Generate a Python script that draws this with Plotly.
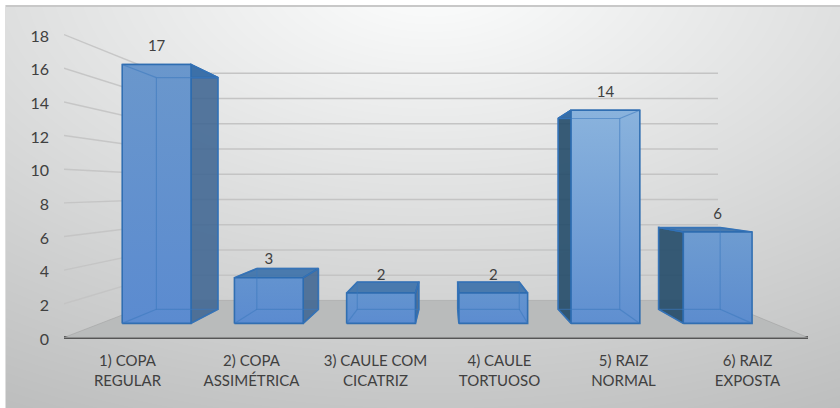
import base64, struct, zlib
import numpy as np
import plotly.graph_objects as go

# ---------- data ----------
categories = ["1) COPA<br>REGULAR", "2) COPA<br>ASSIMÉTRICA", "3) CAULE COM<br>CICATRIZ",
              "4) CAULE<br>TORTUOSO", "5) RAIZ<br>NORMAL", "6) RAIZ<br>EXPOSTA"]
values = [17, 3, 2, 2, 14, 6]
y_ticks = list(range(0, 20, 2))

# ---------- geometry of the 3-D look (in axis units) ----------
W, H = 840, 408
PLOT_L, PLOT_R, PLOT_T, FLOOR_Y = 64, 808, 30, 337
PX_X = (PLOT_R - PLOT_L) / len(categories)
PX_Y = 16.8
Y_MIN = -0.15
PLOT_B = FLOOR_Y - Y_MIN * PX_Y
VP_X = (448 - PLOT_L) / PX_X
VP_Y = (FLOOR_Y - 189) / PX_Y
S_BACK, S_NEAR, S_FAR = 0.75, 0.905, 0.81
BAR_W = 76 / PX_X
TICK_NUDGE = 0.09  # tick labels sit a little lower than their wall lines


def proj(x, v, s):
    return VP_X + (x - VP_X) * s, VP_Y + (v - VP_Y) * s


# ---------- background picture ----------
def background_uri():
    yy, xx = np.mgrid[0:H, 0:W]
    t = np.sqrt(((xx - 430) / 760.0) ** 2 + ((yy + 30) / 430.0) ** 2)
    g = np.clip(254 - 56 * t, 0, 255)
    img = np.stack([g, g + 1, g + 1], axis=-1).clip(0, 255).astype(np.uint8)
    img[:5, :] = 255
    img[:, :5] = 255
    img[5:7, 5:] = 200
    img[5:, 5] = 222
    raw = b"".join(b"\x00" + img[r].tobytes() for r in range(H))

    def chunk(tag, data):
        c = struct.pack(">I", len(data)) + tag + data
        return c + struct.pack(">I", zlib.crc32(tag + data) & 0xffffffff)

    png = (b"\x89PNG\r\n\x1a\n" + chunk(b"IHDR", struct.pack(">IIBBBBB", W, H, 8, 2, 0, 0, 0))
           + chunk(b"IDAT", zlib.compress(raw)) + chunk(b"IEND", b""))
    return "data:image/png;base64," + base64.b64encode(png).decode()


fig = go.Figure()


def face(points, fill, line="rgba(44,108,176,0.95)", width=1.6, gradient=None):
    xs = [p[0] for p in points] + [points[0][0]]
    ys = [p[1] for p in points] + [points[0][1]]
    kw = {"fillcolor": fill}
    if gradient:
        kw = {"fillgradient": dict(type="vertical", colorscale=[[0, gradient[1]], [1, gradient[0]]])}
    fig.add_trace(go.Scatter(x=xs, y=ys, mode="lines", fill="toself", hoverinfo="skip",
                             line=dict(color=line, width=width), **kw))


def polyline(points, color, width):
    fig.add_trace(go.Scatter(x=[p[0] for p in points], y=[p[1] for p in points], mode="lines",
                             hoverinfo="skip", line=dict(color=color, width=width)))


n = len(categories)
# floor
face([proj(0, 0, 1), proj(n, 0, 1), proj(n, 0, S_BACK), proj(0, 0, S_BACK)],
     "#b9bbbb", line="rgba(150,150,150,0.6)", width=0.7)

# walls
for v in y_ticks[1:]:
    polyline([proj(0, v, 1), proj(0, v, S_BACK)], "rgba(195,195,195,0.9)", 1.4)
    polyline([proj(0, v, S_BACK), proj(n, v, S_BACK)], "#c4c4c4", 1.6)

# bars: near-face colours, (top, bottom)
near_top = ["#6a97cc", "#6393cf", "#6394cf", "#6394cf", "#8ab3dd", "#6e9cd1"]
near_bottom = ["#5b8bd0", "#5b8bd0", "#5c8cd0", "#5c8cd0", "#5f8fd0", "#5c8cce"]
for i, val in enumerate(values):
    x0 = i + 0.5 - BAR_W / 2
    x1 = i + 0.5 + BAR_W / 2
    nbl, nbr = proj(x0, 0, S_NEAR), proj(x1, 0, S_NEAR)
    ntl, ntr = proj(x0, val, S_NEAR), proj(x1, val, S_NEAR)
    fbl, fbr = proj(x0, 0, S_FAR), proj(x1, 0, S_FAR)
    ftl, ftr = proj(x0, val, S_FAR), proj(x1, val, S_FAR)
    left_of_vp = (x0 + x1) / 2 < VP_X
    if left_of_vp:
        face([nbr, fbr, ftr, ntr], "rgba(66,104,148,0.9)")
    else:
        face([nbl, fbl, ftl, ntl], "rgba(35,75,105,0.9)")
    face([ntl, ntr, ftr, ftl], "rgba(58,112,170,0.9)")
    face([nbl, nbr, ntr, ntl], None, gradient=(near_top[i], near_bottom[i]))
    # edges seen through the translucent near face
    inner = "rgba(58,120,190,0.55)"
    polyline([ftl, fbl, fbr, ftr, ftl], inner, 1.2)
    polyline([nbl, fbl], inner, 1.2)
    polyline([nbr, fbr], inner, 1.2)
    polyline([ntl, ftl], inner, 1.2)
    polyline([ntr, ftr], inner, 1.2)

# value labels (above the near face of each bar)
lab_x, lab_y = [], []
for i, val in enumerate(values):
    px, py = proj(i + 0.5, val, S_NEAR)
    lab_x.append(px)
    lab_y.append(py + 17 / PX_Y)
fig.add_trace(go.Scatter(x=lab_x, y=lab_y, mode="text", text=[str(v) for v in values],
                         textposition="middle center", cliponaxis=False, hoverinfo="skip",
                         textfont=dict(family="Lato", size=15, color="#404040")))

fig.update_layout(
    width=W, height=H, showlegend=False,
    margin=dict(l=PLOT_L, r=W - PLOT_R, t=PLOT_T, b=H - PLOT_B, pad=0),
    paper_bgcolor="white", plot_bgcolor="rgba(0,0,0,0)",
    font=dict(family="Lato", size=15, color="#404040"),
    xaxis=dict(range=[0, n], tickmode="array", tickvals=[i + 0.5 + 0.012 for i in range(n)],
               ticktext=categories, showgrid=False, zeroline=False, showline=False,
               ticks="", ticklabelstandoff=10, tickfont=dict(size=15, color="#404040")),
    yaxis=dict(range=[Y_MIN, (FLOOR_Y - PLOT_T) / PX_Y], tickmode="array",
               tickvals=[v - TICK_NUDGE for v in y_ticks], ticktext=[str(v) for v in y_ticks],
               showgrid=False, zeroline=True, zerolinecolor="#555555", zerolinewidth=3,
               showline=False, ticks="", ticklabelstandoff=14,
               tickfont=dict(size=16, color="#404040")),
    images=[dict(source=background_uri(), xref="paper", yref="paper", xanchor="left", yanchor="top",
                 x=-PLOT_L / (PLOT_R - PLOT_L), y=1 + PLOT_T / (PLOT_B - PLOT_T),
                 sizex=W / (PLOT_R - PLOT_L), sizey=H / (PLOT_B - PLOT_T),
                 sizing="stretch", layer="below")],
)
fig.write_html("out.html", config=dict(displayModeBar=False),
               post_script="document.body.style.margin='0';document.documentElement.style.overflow='hidden';")
